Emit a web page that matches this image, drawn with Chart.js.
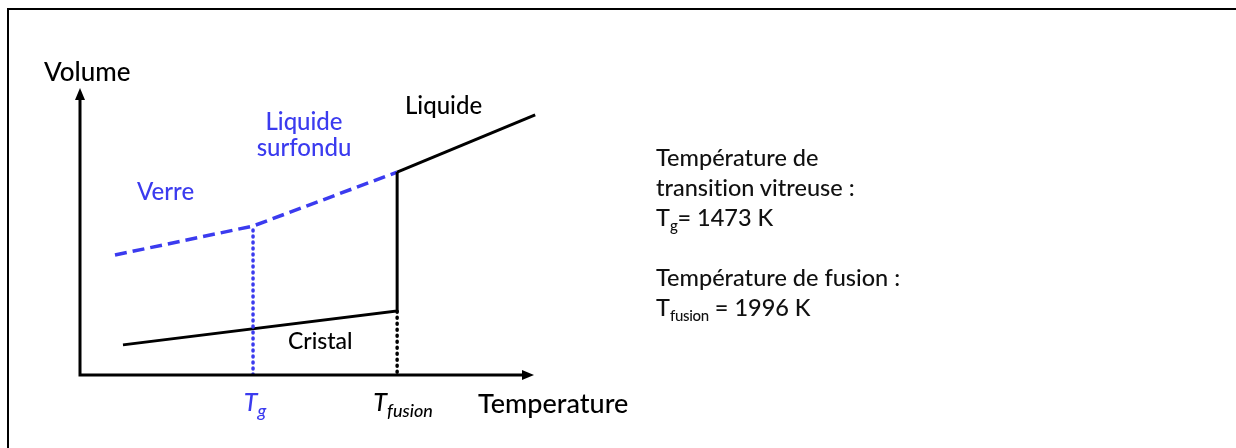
<!DOCTYPE html>
<html>
<head>
<meta charset="utf-8">
<script src="https://cdn.jsdelivr.net/npm/chart.js@4.4.1/dist/chart.umd.min.js"></script>
<style>
  html, body { margin: 0; padding: 0; background: #fff; }
  #wrap { position: relative; width: 1236px; height: 448px; overflow: hidden; font-family: Lato, "Noto Sans", sans-serif; font-weight: 500; font-variant-ligatures: none; }
  #frame { position: absolute; left: 7px; top: 8px; width: 1240px; height: 460px; border-left: 2px solid #000; border-top: 2px solid #000; }
  canvas { position: absolute; left: 0; top: 0; }
  .lbl { position: absolute; white-space: nowrap; font-size: 24px; color: #000; transform: translateY(-50%); line-height: 1.2; }
  .blue { color: #3b3bef; }
  .tick { font-style: italic; transform: translate(-50%, -50%); font-size: 25px; }
  .tick sub { font-size: 18px; vertical-align: -6px; }
  #notes { position: absolute; left: 656px; top: 142px; font-size: 23.5px; line-height: 30px; color: #111; }
  #notes sub { font-size: 15px; vertical-align: -5px; line-height: 0; letter-spacing: -0.3px; }
</style>
</head>
<body>
<div id="wrap">
  <div id="frame"></div>
  <canvas id="diagram" width="1236" height="448"></canvas>
  <div class="lbl" style="left:44px; top:72px; font-size:26px;">Volume</div>
  <div class="lbl" style="left:405px; top:105px;">Liquide</div>
  <div class="lbl blue" style="left:304px; top:134px; transform:translate(-50%,-50%); text-align:center; line-height:26px;">Liquide<br>surfondu</div>
  <div class="lbl blue" style="left:137px; top:191px;">Verre</div>
  <div class="lbl" style="left:288px; top:341px; font-size:23px;">Cristal</div>
  <div class="lbl" style="left:478px; top:403px; font-size:27px;">Temperature</div>
  <div class="lbl tick blue" id="tick0"></div>
  <div class="lbl tick" id="tick1"></div>
  <div id="notes">
    Température de<br>
    transition vitreuse :<br>
    T<sub>g</sub>= 1473 K<br>
    <br>
    Température de fusion :<br>
    T<sub>fusion</sub> = 1996 K
  </div>
</div>
<script>
  // temperatures (K) and volumes (arbitrary units)
  const glassTemps = [972, 1473, 1996];
  const glassVolumes = [41.8, 51.9, 70.7];

  const liquidTemps = [1996, 2497];
  const liquidVolumes = [70.7, 90.6];

  const crystalTemps = [1001, 1996, 1996];
  const crystalVolumes = [10.5, 22.3, 70.7];

  const tgDropTemps = [1473, 1473];
  const tgDropVolumes = [0, 51.9];

  const fusionDropTemps = [1996, 1996];
  const fusionDropVolumes = [1, 22.3];

  const tickTemps = [1473, 1996];
  const tickLabels = [['T', 'g'], ['T', 'fusion']];

  const BLUE = '#3b3bef';
  const BLACK = '#000';

  function toPoints(xs, ys) {
    return xs.map((x, i) => ({ x: x, y: ys[i] }));
  }

  function lineSet(xs, ys, color, dash, width) {
    return {
      data: toPoints(xs, ys),
      showLine: true,
      borderColor: color,
      borderWidth: width || 3,
      borderDash: dash,
      borderCapStyle: dash.length && dash[0] < 4 ? 'round' : 'butt',
      pointRadius: 0,
      tension: 0
    };
  }

  // axes with arrow heads
  const arrowAxes = {
    id: 'arrowAxes',
    afterDatasetsDraw(chart) {
      const { ctx, chartArea } = chart;
      const x0 = chartArea.left, y0 = chartArea.bottom;
      ctx.save();
      ctx.strokeStyle = BLACK;
      ctx.fillStyle = BLACK;
      ctx.lineWidth = 3;
      ctx.beginPath();
      ctx.moveTo(x0, y0);
      ctx.lineTo(x0, chartArea.top + 8);
      ctx.moveTo(x0 - 1.5, y0);
      ctx.lineTo(chartArea.right - 10, y0);
      ctx.stroke();
      ctx.beginPath();
      ctx.moveTo(x0, chartArea.top);
      ctx.lineTo(x0 - 5, chartArea.top + 12);
      ctx.lineTo(x0 + 5, chartArea.top + 12);
      ctx.closePath();
      ctx.fill();
      ctx.beginPath();
      ctx.moveTo(chartArea.right - 2, y0);
      ctx.lineTo(chartArea.right - 14, y0 - 5);
      ctx.lineTo(chartArea.right - 14, y0 + 5);
      ctx.closePath();
      ctx.fill();
      ctx.restore();

      // place the Tg / Tfusion labels under their temperatures
      const xs = chart.scales.x;
      tickTemps.forEach((t, i) => {
        const el = document.getElementById('tick' + i);
        el.innerHTML = tickLabels[i][0] + '<sub>' + tickLabels[i][1] + '</sub>';
        el.style.left = (xs.getPixelForValue(t) + (i ? 6 : 2)) + 'px';
        el.style.top = '404px';
      });
    }
  };

  new Chart(document.getElementById('diagram'), {
    type: 'scatter',
    data: {
      datasets: [
        lineSet(tgDropTemps, tgDropVolumes, BLUE, [1, 5], 3.5),
        lineSet(fusionDropTemps, fusionDropVolumes, BLACK, [1, 5], 3.5),
        lineSet(crystalTemps, crystalVolumes, BLACK, []),
        lineSet(liquidTemps, liquidVolumes, BLACK, []),
        lineSet(glassTemps, glassVolumes, BLUE, [12, 6], 3.5)
      ]
    },
    options: {
      responsive: false,
      animation: false,
      layout: { padding: { left: 80, right: 700, top: 88, bottom: 73 } },
      plugins: { legend: { display: false }, tooltip: { enabled: false } },
      scales: {
        x: { type: 'linear', min: 845, max: 2500, display: false },
        y: { type: 'linear', min: 0, max: 100, display: false }
      }
    },
    plugins: [arrowAxes]
  });
</script>
</body>
</html>
